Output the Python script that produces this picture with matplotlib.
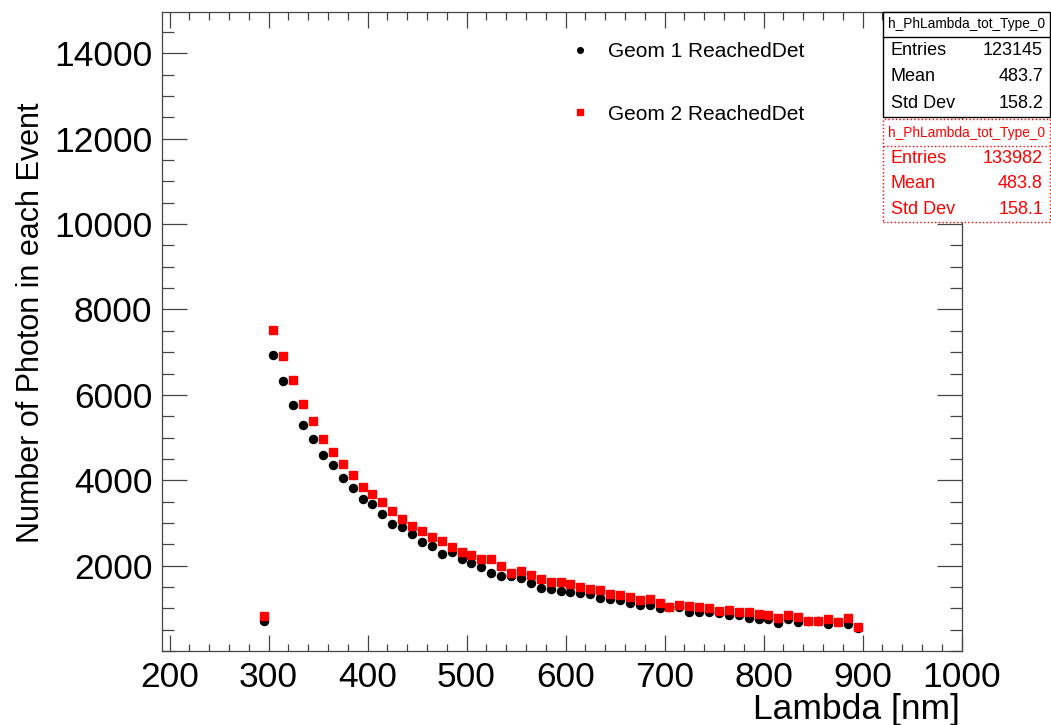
import matplotlib
matplotlib.use('Agg')
import matplotlib.pyplot as plt
from matplotlib.patches import Rectangle
from matplotlib.lines import Line2D
from matplotlib.ticker import MultipleLocator

plt.rcParams['font.family'] = ['Liberation Sans', 'DejaVu Sans']

# bin centres [nm]
lambda_nm = [295, 305, 315, 325, 335, 345, 355, 365, 375, 385,
             395, 405, 415, 425, 435, 445, 455, 465, 475, 485,
             495, 505, 515, 525, 535, 545, 555, 565, 575, 585,
             595, 605, 615, 625, 635, 645, 655, 665, 675, 685,
             695, 705, 715, 725, 735, 745, 755, 765, 775, 785,
             795, 805, 815, 825, 835, 845, 855, 865, 875, 885, 895]

geom1 = [703, 6940, 6330, 5774, 5294, 4971, 4587, 4357, 4045, 3826,
         3553, 3436, 3209, 2975, 2893, 2748, 2560, 2464, 2280, 2314,
         2148, 2068, 1960, 1830, 1757, 1757, 1703, 1586, 1483, 1445,
         1413, 1375, 1351, 1335, 1249, 1218, 1200, 1115, 1085, 1085,
         1000, 1020, 1038, 921, 921, 921, 883, 850, 843, 766,
         738, 742, 664, 742, 687, 700, 700, 633, 675, 633, 545]

geom2 = [820, 7519, 6917, 6341, 5786, 5376, 4971, 4650, 4392, 4123,
         3849, 3670, 3495, 3272, 3087, 2921, 2818, 2659, 2581, 2429,
         2319, 2260, 2150, 2160, 1991, 1834, 1881, 1780, 1680, 1623,
         1623, 1562, 1492, 1445, 1429, 1335, 1305, 1265, 1200, 1218,
         1136, 1030, 1085, 1058, 1020, 1008, 930, 968, 921, 902,
         860, 843, 781, 843, 804, 711, 711, 742, 687, 766, 555]

stats1 = [("Entries", "123145"), ("Mean", "483.7"), ("Std Dev", "158.2")]
stats2 = [("Entries", "133982"), ("Mean", "483.8"), ("Std Dev", "158.1")]
hist_name = "h_PhLambda_tot_Type_0"

W, H = 1051, 725
fig = plt.figure(figsize=(W / 100, H / 100), dpi=100)


def fx(px):
    return px / W


def fy(py):
    return 1 - py / H


ax = fig.add_axes([fx(162), fy(651), fx(961.5) - fx(162), fy(12) - fy(651)])

ax.plot(lambda_nm, geom1, 'o', color='black', markersize=5.8, linestyle='none',
        label='Geom 1 ReachedDet')
ax.plot(lambda_nm, geom2, 's', color='red', markersize=5.4, linestyle='none',
        label='Geom 2 ReachedDet')

ax.set_xlim(192.4, 1000)
ax.set_ylim(0, 14968)
ax.xaxis.set_major_locator(MultipleLocator(100))
ax.xaxis.set_minor_locator(MultipleLocator(20))
ax.yaxis.set_minor_locator(MultipleLocator(500))
ax.set_yticks([2000, 4000, 6000, 8000, 10000, 12000, 14000])

ax.tick_params(axis='both', which='both', direction='in', top=True, right=True,
               color='#444444', width=0.9)
ax.tick_params(axis='x', which='major', length=11.5, labelsize=25.5, pad=7)
ax.tick_params(axis='x', which='minor', length=5.4)
ax.tick_params(axis='y', which='major', length=18, labelsize=25.5, pad=7)
ax.tick_params(axis='y', which='minor', length=8.6)
for s in ax.spines.values():
    s.set_color('#444444')
    s.set_linewidth(0.9)

fig.text(fx(960), fy(710), 'Lambda [nm]', fontsize=25.5, ha='right', va='center')
fig.text(fx(31), fy(323), 'Number of Photon in each Event', fontsize=22,
         rotation=90, ha='center', va='center')

ax.legend(loc='upper left', bbox_to_anchor=(fx(570), fy(42)),
          bbox_transform=fig.transFigure, frameon=False, fontsize=15,
          handlelength=1.0, handletextpad=0.8, labelspacing=2.1,
          borderpad=0, borderaxespad=0, markerscale=0.7)

# stats boxes
x0, x1 = 882.7, 1050
boxes = [(11.7, 36.7, 116.7, 'black', '-', stats1),
         (119.3, 145.7, 221.7, 'red', ':', stats2)]
for top, sep, bot, col, ls, rows in boxes:
    fig.patches.append(Rectangle((fx(x0), fy(bot)), fx(x1) - fx(x0), fy(top) - fy(bot),
                                 transform=fig.transFigure, facecolor='white',
                                 edgecolor=col, linestyle=ls, linewidth=1.0, zorder=5))
    fig.lines.append(Line2D([fx(x0), fx(x1)], [fy(sep), fy(sep)], transform=fig.transFigure,
                            color=col, linestyle=ls, linewidth=1.0, zorder=6))
    fig.text(fx((x0 + x1) / 2), fy((top + sep) / 2), hist_name, fontsize=9.8,
             color=col, ha='center', va='center', zorder=7)
    step = (bot - sep) / 3
    for i, (k, v) in enumerate(rows):
        yc = sep + step * (i + 0.5)
        fig.text(fx(891), fy(yc), k, fontsize=13, color=col, ha='left', va='center', zorder=7)
        fig.text(fx(1043), fy(yc), v, fontsize=13, color=col, ha='right', va='center', zorder=7)

fig.savefig('out.png', dpi=100)
